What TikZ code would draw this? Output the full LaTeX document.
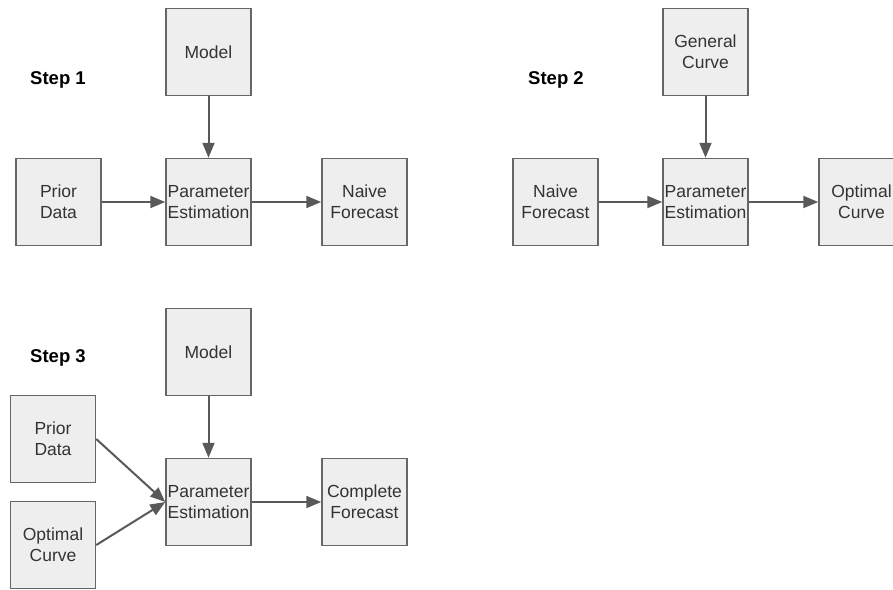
\documentclass[tikz,border=0pt]{standalone}
\usepackage{fontspec}
\setmainfont{Liberation Sans}
\usetikzlibrary{positioning,arrows.meta}
\definecolor{boxfill}{HTML}{EEEEEE}
\definecolor{boxline}{HTML}{666666}
\definecolor{arrowgray}{HTML}{595959}
\definecolor{labelgray}{HTML}{333333}
\tikzset{
  box/.style={draw=boxline, fill=boxfill, line width=1.5pt, minimum width=85pt,
    minimum height=87pt, align=center, inner sep=1pt, text=labelgray,
    font=\fontsize{17.5}{21}\selectfont},
  steplabel/.style={font=\bfseries\fontsize{18.5}{21}\selectfont},
  flow/.style={draw=arrowgray, line width=2pt, -{Triangle[length=15pt,width=12pt]}},
}
\begin{document}
\begin{tikzpicture}[node distance=150pt]
  \useasboundingbox (0,0) rectangle (893pt,-589pt);

  % step 1
  \node (step1) [steplabel] at (58pt,-80pt) {Step 1};
  \node (model1) [box] at (208.5pt,-52pt) {Model};
  \node (pe1) [box, below of=model1] {Parameter\\Estimation};
  \node (prior1) [box, left of=pe1] {Prior\\Data};
  \node (naive1) [box, right of=pe1, xshift=6pt] {Naive\\Forecast};

  \draw[flow] (model1) -- (pe1);
  \draw[flow] (prior1) -- (pe1);
  \draw[flow] (pe1) -- (naive1);

  % step 2
  \node (step2) [steplabel] at (556pt,-80pt) {Step 2};
  \node (curve2) [box] at (705.5pt,-52pt) {General\\Curve};
  \node (pe2) [box, below of=curve2] {Parameter\\Estimation};
  \node (naive2) [box, left of=pe2] {Naive\\Forecast};
  \node (optimal2) [box, right of=pe2, xshift=6pt] {Optimal\\Curve};

  \draw[flow] (curve2) -- (pe2);
  \draw[flow] (naive2) -- (pe2);
  \draw[flow] (pe2) -- (optimal2);

  % step 3
  \node (step3) [steplabel] at (58pt,-358pt) {Step 3};
  \node (model3) [box] at (208.5pt,-352pt) {Model};
  \node (pe3) [box, below of=model3] {Parameter\\Estimation};
  \node (complete3) [box, right of=pe3, xshift=6pt] {Complete\\Forecast};
  \node (prior3) [box] at (53pt,-439pt) {Prior\\Data};
  \node (optimal3) [box] at (53pt,-545pt) {Optimal\\Curve};

  \draw[flow] (model3) -- (pe3);
  \draw[flow] (prior3.east) -- (pe3.west);
  \draw[flow] (optimal3.east) -- (pe3.west);
  \draw[flow] (pe3) -- (complete3);
\end{tikzpicture}
\end{document}
